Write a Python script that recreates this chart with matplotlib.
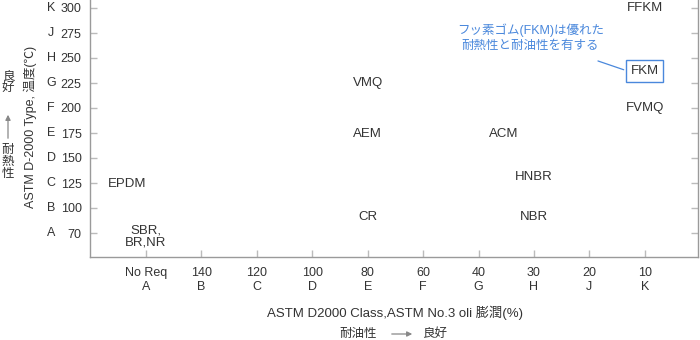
import matplotlib
matplotlib.use("Agg")
import matplotlib.pyplot as plt
from matplotlib.patches import FancyArrowPatch
from matplotlib.transforms import blended_transform_factory

plt.rcParams['font.family'] = ['Liberation Sans', 'Noto Sans CJK JP', 'DejaVu Sans']

# ---- data ----
x_numbers = ["No Req", "140", "120", "100", "80", "60", "40", "30", "20", "10"]
x_letters = ["A", "B", "C", "D", "E", "F", "G", "H", "J", "K"]
y_numbers = ["70", "100", "125", "150", "175", "200", "225", "250", "275", "300"]
y_letters = ["A", "B", "C", "D", "E", "F", "G", "H", "J", "K"]

materials = ["EPDM", "SBR,\nBR,NR", "VMQ", "AEM", "CR", "ACM", "HNBR", "NBR", "FFKM", "FKM", "FVMQ"]
mat_x = [-0.34, 0, 4, 4, 4, 6.46, 7, 7, 9, 9, 9]
mat_y = [1.95, -0.14, 6, 3.95, 0.64, 3.95, 2.24, 0.64, 9, 6.48, 5]
highlight = "FKM"
note = "フッ素ゴム(FKM)は優れた\n耐熱性と耐油性を有する"

TXT = "#333333"
AX = "#9a9a9a"
BLUE = "#4a88dc"

fig = plt.figure(figsize=(7, 3.4), dpi=100)
ax = fig.add_axes([90/700, 1-257/340, (698-90)/700, 257/340])

ax.set_xlim(-1.01, 9.96)
ax.set_ylim(-0.96, 9.32)

for s in ["left", "right", "bottom"]:
    ax.spines[s].set_color(AX)
    ax.spines[s].set_linewidth(1.0)
ax.spines["top"].set_visible(False)

ax.set_xticks(range(len(x_numbers)))
ax.set_xticklabels([f"{n}\n{l}" for n, l in zip(x_numbers, x_letters)],
                   fontsize=9, color=TXT, linespacing=1.25)
ax.set_yticks(range(len(y_numbers)))
ax.set_yticklabels(y_numbers, fontsize=9, color=TXT)
ax.tick_params(axis="both", direction="in", length=5, color="#bbbbbb", width=1)
ax.tick_params(axis="y", right=True, pad=6)
ax.tick_params(axis="x", pad=7)

# y letters
ltrans = blended_transform_factory(fig.transFigure, ax.transData)
for i, l in enumerate(y_letters):
    ax.text(51/700, i, l, transform=ltrans,
            ha="center", va="center", fontsize=9, color=TXT)

# material labels
for name, x, y in zip(materials, mat_x, mat_y):
    if name == highlight:
        ax.text(x, y, name, ha="center", va="center", fontsize=9.5, color=TXT,
                bbox=dict(boxstyle="square,pad=0.35", fc="white", ec=BLUE, lw=1.0))
    else:
        ax.text(x, y, name, ha="center", va="center", fontsize=9.5, color=TXT,
                linespacing=1.1)

# annotation
fx = mat_x[materials.index(highlight)]
fy = mat_y[materials.index(highlight)]
ax.annotate(note, xy=(fx - 0.38, fy + 0.05), xytext=(6.94, 7.8),
            ha="center", va="center", fontsize=9, color=BLUE, linespacing=1.35,
            arrowprops=dict(arrowstyle="-", color=BLUE, lw=0.9,
                            shrinkA=13, shrinkB=0))

# axis labels
fig.text(30/700, 1-127/340, "ASTM D-2000 Type, 温度(℃)", rotation=90,
         ha="center", va="center", fontsize=9, color=TXT)
fig.text(395/700, 1-313/340, "ASTM D2000 Class,ASTM No.3 oli 膨潤(%)",
         ha="center", va="center", fontsize=9.5, color=TXT)

# bottom hint
fig.text(358/700, 1-334/340, "耐油性", ha="center", va="center", fontsize=9, color=TXT)
fig.text(435/700, 1-334/340, "良好", ha="center", va="center", fontsize=9, color=TXT)
fig.add_artist(FancyArrowPatch((389/700, 1-334/340), (415/700, 1-334/340),
                               transform=fig.transFigure, arrowstyle="-|>,head_length=3,head_width=1.5",
                               color="#888888", lw=0.9))

# left hint
fig.text(8/700, 1-82/340, "良\n好", ha="center", va="center", fontsize=9, color=TXT, linespacing=1.0)
fig.text(8/700, 1-162/340, "耐\n熱\n性", ha="center", va="center", fontsize=9, color=TXT, linespacing=1.0)
fig.add_artist(FancyArrowPatch((8/700, 1-141/340), (8/700, 1-112/340),
                               transform=fig.transFigure, arrowstyle="-|>,head_length=3,head_width=1.5",
                               color="#888888", lw=0.9))

fig.savefig("out.png", dpi=100)
